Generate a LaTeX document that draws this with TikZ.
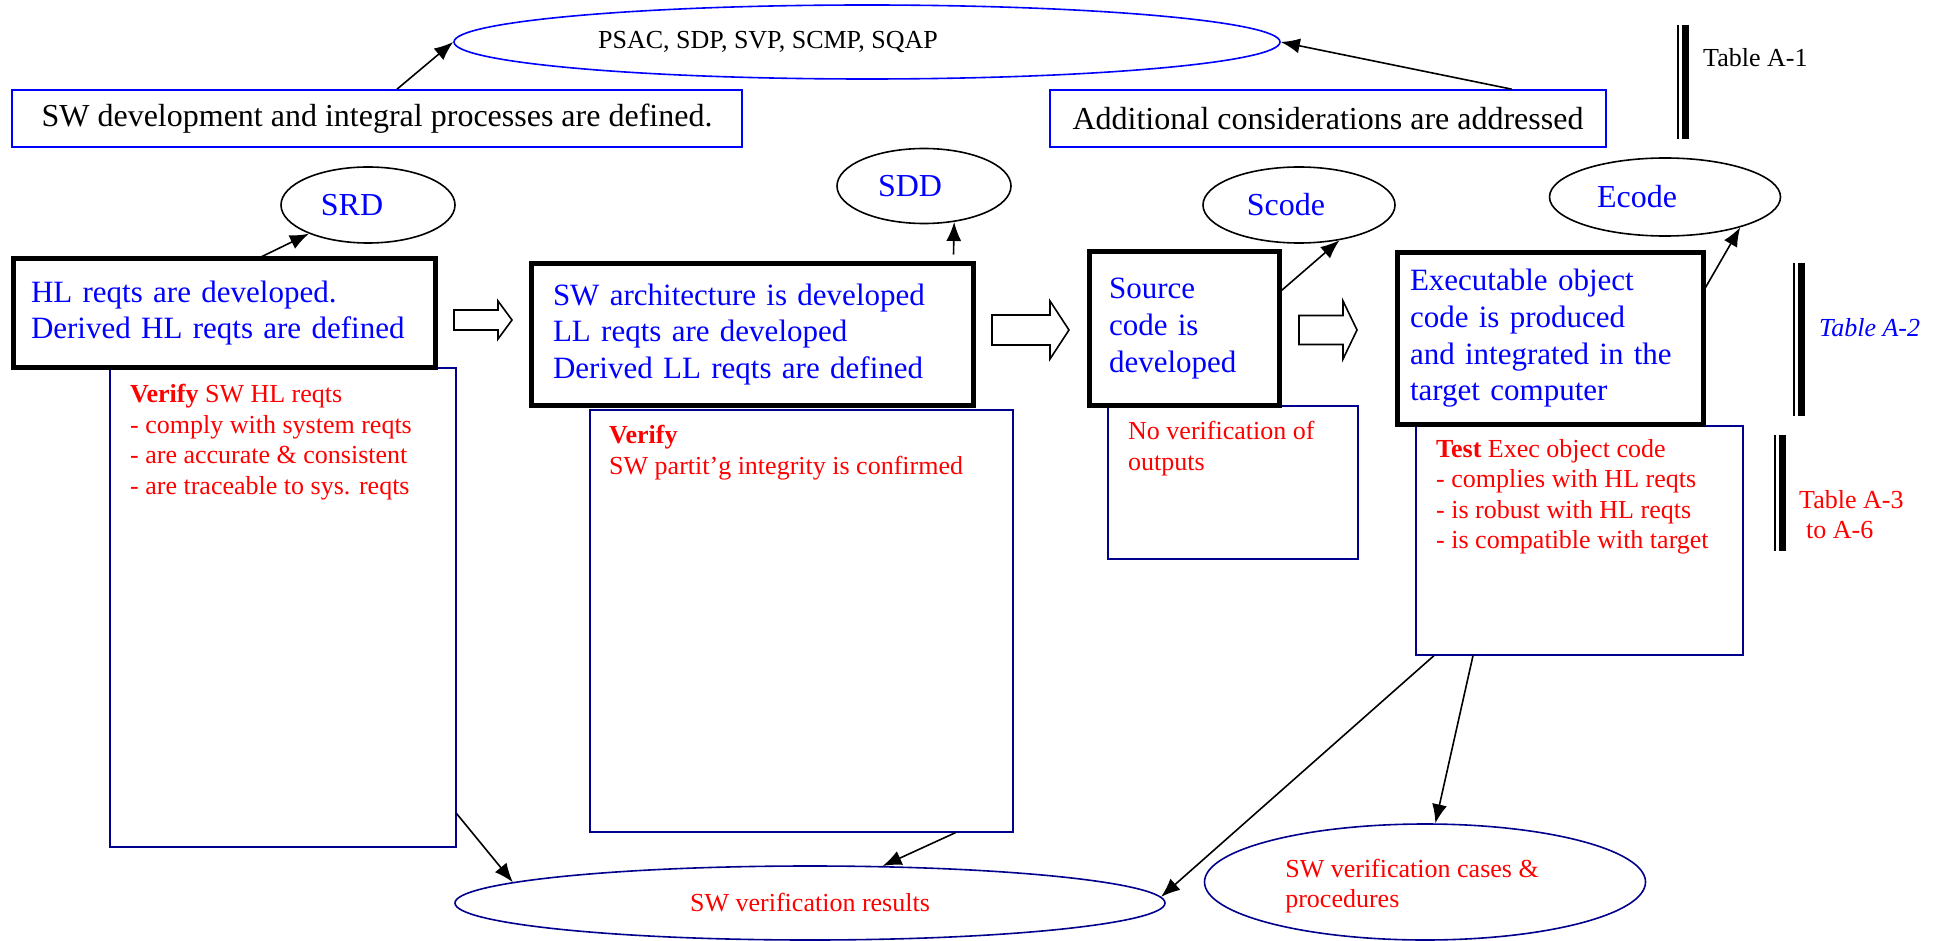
\documentclass[tikz,border=0pt]{standalone}
\usepackage{fontspec}
\setmainfont{Liberation Serif}
\usepackage{tikz}
\usetikzlibrary{shapes.geometric,arrows.meta}
\definecolor{navy}{RGB}{0,0,140}
\newcommand{\bigtxt}{\fontsize{32}{37}\selectfont}
\newcommand{\steptxt}{\fontsize{31}{36.7}\selectfont}
\newcommand{\smalltxt}{\fontsize{26}{30.5}\selectfont}

\begin{document}
\begin{tikzpicture}[x=1pt,y=-1pt,>={Latex[length=19pt,width=15pt]},
  devbox/.style={draw,line width=5pt,text=blue,align=left,font=\steptxt,inner ysep=0pt},
  verbox/.style={draw=navy,line width=1.6pt,anchor=north west,inner sep=0pt},
  vertext/.style={text=red,align=left,font=\smalltxt,anchor=north west,inner sep=0pt},
  planbox/.style={draw=blue,line width=1.6pt,font=\bigtxt,inner sep=0pt,minimum height=57pt},
  docoval/.style={ellipse,draw,line width=1.6pt,inner sep=0pt},
  link/.style={->,line width=1.6pt}]
  \useasboundingbox (0,0) rectangle (1948,941);

  % planning
  \node[docoval,draw=blue,minimum width=826pt,minimum height=74pt,
    label={[font=\smalltxt,xshift=-99pt]center:{PSAC, SDP, SVP, SCMP, SQAP}}] (psac) at (867,42) {};
  \node[planbox,minimum width=730pt] (swdev) at (377,118.5) {SW development and integral processes are defined.};
  \node[planbox,minimum width=556pt] (addl) at (1328,118.5) {Additional considerations are addressed};

  % outputs of development
  \node[docoval,minimum width=174pt,minimum height=76pt,
    label={[font=\bigtxt,text=blue,xshift=-16pt]center:SRD}] (srd) at (368,205) {};
  \node[docoval,minimum width=174pt,minimum height=75pt,
    label={[font=\bigtxt,text=blue,xshift=-14pt]center:SDD}] (sdd) at (924,186) {};
  \node[docoval,minimum width=192pt,minimum height=76pt,
    label={[font=\bigtxt,text=blue,xshift=-13pt]center:Scode}] (scode) at (1299,205) {};
  \node[docoval,minimum width=231pt,minimum height=78pt,
    label={[font=\bigtxt,text=blue,xshift=-28pt]center:Ecode}] (ecode) at (1665,197) {};

  % verification boxes
  \node[verbox,minimum width=346pt,minimum height=479pt] (hlver) at (109,367) {};
  \node[verbox,minimum width=423pt,minimum height=422pt] (archver) at (589,409) {};
  \node[verbox,minimum width=250pt,minimum height=153pt] (srcver) at (1107,405) {};
  \node[verbox,minimum width=327pt,minimum height=229pt] (test) at (1415,425) {};
  \node[vertext] (hlvtxt) at (130,384) {\textbf{Verify} SW HL reqts\\- comply with system reqts\\- are accurate \& consistent\\- are traceable to sys. reqts};
  \node[vertext] (archvtxt) at (609,425) {\textbf{Verify}\\SW partit’g integrity is confirmed};
  \node[vertext] (srcvtxt) at (1128,421) {No verification of\\outputs};
  \node[vertext] (testtxt) at (1436,439) {\textbf{Test} Exec object code\\- complies with HL reqts\\- is robust with HL reqts\\- is compatible with target};

  % development steps
  \node[devbox,text width=386pt,inner xsep=18pt,minimum height=108pt] (hl) at (224,313) {HL reqts are developed.\\Derived HL reqts are defined};
  \node[devbox,text width=398pt,inner xsep=22pt,minimum height=141pt] (arch) at (752,334.5) {SW architecture is developed\\LL reqts are developed\\Derived LL reqts are defined};
  \node[devbox,text width=150pt,inner xsep=20pt,minimum height=153pt] (src) at (1184,328.5) {Source\\code is\\developed};
  \node[devbox,text width=280pt,inner xsep=13pt,minimum height=171pt] (exe) at (1550,338.5) {Executable object\\code is produced\\and integrated in the\\target computer};

  \foreach \xa/\xh/\xb/\yc/\sw/\hw in {454/498/512/320/10/19,992/1050/1069/330/15/29,1299/1343/1357/330/14.5/29}
    \draw[line width=1.6pt] (\xa,\yc-\sw) -- (\xh,\yc-\sw) -- (\xh,\yc-\hw) -- (\xb,\yc)
      -- (\xh,\yc+\hw) -- (\xh,\yc+\sw) -- (\xa,\yc+\sw) -- cycle;

  % verification outputs
  \node[docoval,draw=navy,minimum width=710pt,minimum height=74pt,
    label={[font=\smalltxt,text=red]center:SW verification results}] (results) at (810,903) {};
  \node[docoval,draw=navy,minimum width=441pt,minimum height=116pt,
    label={[font=\smalltxt,text=red,align=left,xshift=-13pt,yshift=-4pt]center:{SW verification cases \&\\procedures}}] (cases) at (1425,882) {};

  % tables
  \foreach \xb/\ya/\yb in {1678/25/139,1794/263/416,1775/435/551}{
    \draw[line width=2pt] (\xb,\ya) -- (\xb,\yb);
    \draw[line width=7pt] (\xb+7.5,\ya) -- (\xb+7.5,\yb);
  }
  \node[font=\smalltxt,anchor=base west,inner sep=0pt] (taba1) at (1703,67) {Table A-1};
  \node[font=\smalltxt\itshape,text=blue,anchor=base west,inner sep=0pt] (taba2) at (1819,336) {Table A-2};
  \node[vertext] (taba3) at (1799,490) {Table A-3\\\hspace*{7pt}to A-6};

  % connectors
  \draw[link] ([xshift=20pt]swdev.north) -- (psac.west);
  \draw[link] ([xshift=-95pt]addl.north east) -- (psac.east);
  \draw[link] ([xshift=38pt]hl.north) -- (srd);
  \draw[link] ([xshift=-22pt,yshift=7pt]arch.north east) -- (sdd.310);
  \draw[link] ([yshift=38pt]src.east) -- (scode.319);
  \draw[link] ([yshift=51pt]exe.east) -- (ecode.338);
  \draw[link] ([yshift=34pt]hlver.south east) -- (results.176);
  \draw[link] ([xshift=-58pt]archver.south east) -- (results.27);
  \draw[link] ([xshift=19pt]test.south west) -- (results.1);
  \draw[link] ([xshift=58pt]test.south west) -- (cases.80);
\end{tikzpicture}
\end{document}
